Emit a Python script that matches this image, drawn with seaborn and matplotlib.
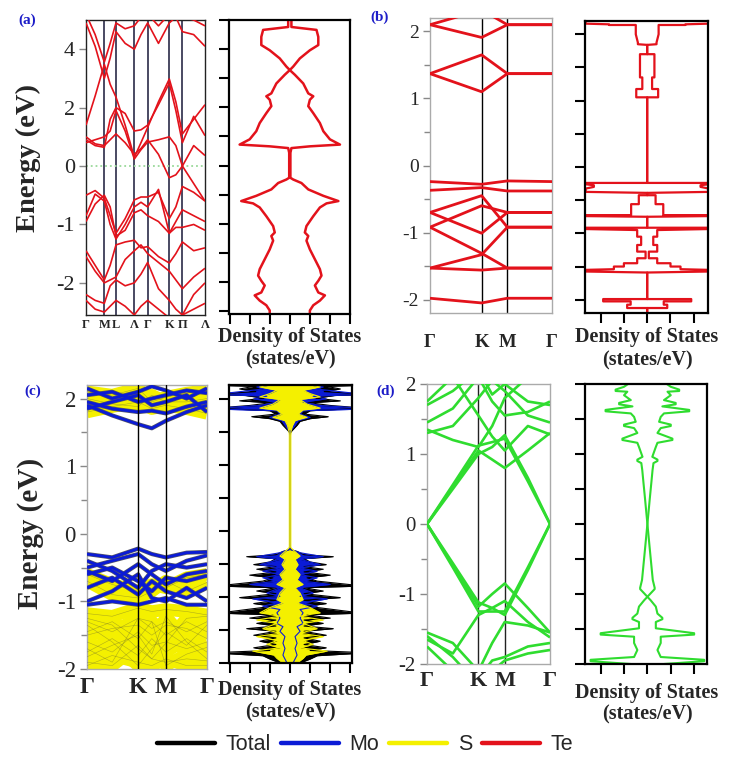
import numpy as np
import pandas as pd
import matplotlib
matplotlib.use("Agg")
import matplotlib.pyplot as plt
import seaborn as sns
from matplotlib.lines import Line2D

sns.set_theme(style="white")
SERIF = ['Liberation Serif', 'DejaVu Serif']
SANS = ['Liberation Sans', 'DejaVu Sans']
plt.rcParams['font.family'] = SERIF

# ---------------- colours ----------------
RED = '#e3121b'
BLUE = '#0b1bd6'
YELLOW = '#f4f000'
GREEN = '#2fdc2f'
PANEL_BLUE = '#1c1cc8'

# ---------------- panel (a) : band structure (axis units as printed) ----------------
A_KPTS = [0, .077, .154, .203, .252, .329, .406, .462, .518, .609, .700, .755, .810, .905, 1.0]
A_NODES = [0, .154, .252, .406, .518, .700, .810, 1.0]
A_NODE_LABELS = ['Γ', 'M', 'L', 'Λ', 'Γ', 'K', 'Π', 'Λ']
A_YTICKS = [-2, -1, 0, 1, 2]
A_YTICKLABELS = ['-2', '-1', '0', '2', '4']
A_BANDS = [
    [2.45, 2.05, 1.50, 1.85, 2.30, 2.10, 2.00, 2.25, 2.45, 2.10, 2.45, 2.55, 2.30, 2.25, 2.05],
    [2.60, 2.25, 1.78, 2.10, 2.45, 2.35, 2.40, 2.55, 2.60, 2.40, 2.60, 2.60, 2.55, 2.50, 2.40],
    [0.70, 1.20, 1.74, 1.40, 1.18, 0.70, 0.15, 0.40, 0.66, 1.10, 1.49, 1.10, 0.55, 0.80, 1.05],
    [0.45, 0.35, 0.32, 0.80, 1.00, 0.90, 0.60, 0.62, 0.70, 1.05, 1.42, 0.95, 0.40, 0.85, 0.52],
    [0.40, 0.45, 0.50, 0.60, 0.95, 0.60, 0.12, 0.28, 0.41, 0.45, 0.50, 0.35, 0.00, -0.30, -0.60],
    [0.50, 0.38, 0.35, 0.45, 0.55, 0.40, 0.20, 0.30, 0.45, 0.20, -0.20, -0.15, 0.00, 0.35, 0.18],
    [-0.50, -0.42, -0.55, -0.85, -1.15, -0.90, -0.58, -0.53, -0.53, -0.45, -0.90, -0.70, -0.35, -0.45, -0.60],
    [-0.85, -0.48, -0.60, -1.00, -1.25, -1.00, -0.70, -0.62, -0.70, -0.40, -1.15, -0.95, -0.75, -0.85, -0.95],
    [-0.95, -0.65, -0.50, -0.70, -1.20, -1.10, -0.80, -0.75, -0.85, -0.95, -1.15, -1.05, -1.05, -1.00, -1.10],
    [-1.45, -1.70, -1.95, -1.70, -1.35, -1.30, -1.27, -1.40, -1.38, -1.55, -1.66, -1.50, -1.30, -1.45, -1.40],
    [-1.55, -1.80, -2.00, -1.95, -1.90, -1.60, -1.45, -1.35, -1.50, -1.65, -1.80, -1.95, -2.10, -1.90, -1.75],
    [-2.20, -2.30, -2.35, -2.05, -1.95, -2.05, -2.00, -1.85, -1.65, -2.10, -2.30, -2.45, -2.55, -2.20, -2.00],
    [-2.30, -2.45, -2.50, -2.40, -2.30, -2.40, -2.55, -2.40, -2.30, -2.45, -2.60, -2.60, -2.55, -2.45, -2.35],
]
# panel (a) DOS : (energy, half-width)
A_DOS = [(2.50, 0.08), (2.38, 0.08), (2.33, 1.33), (2.21, 1.42), (2.07, 1.42), (1.98, 1.0), (1.84, 0.5),
         (1.70, 0.17), (1.64, 0.0), (1.56, 0.25), (1.41, 0.67), (1.24, 0.92), (1.19, 1.17), (1.13, 1.0),
         (1.02, 0.92), (0.90, 1.17), (0.73, 1.5), (0.59, 1.67), (0.45, 2.0), (0.36, 2.5), (0.33, 1.0),
         (0.30, 0.08), (0.22, 0.03), (-0.21, 0.03), (-0.24, 0.17), (-0.30, 0.58), (-0.41, 0.92),
         (-0.52, 1.67), (-0.61, 2.42), (-0.65, 1.83), (-0.72, 1.5), (-0.87, 1.17), (-1.04, 0.83),
         (-1.15, 0.75), (-1.21, 0.92), (-1.29, 0.83), (-1.44, 1.0), (-1.61, 1.25), (-1.78, 1.5),
         (-1.89, 1.58), (-1.98, 1.42), (-2.06, 1.25), (-2.18, 1.42), (-2.23, 1.75), (-2.32, 1.5),
         (-2.40, 1.17), (-2.49, 1.0), (-2.56, 1.0)]

# ---------------- panel (b) ----------------
B_KPTS = [0, 0.423, 0.634, 1.0]
B_NODE_LABELS = ['Γ', 'K', 'M', 'Γ']
B_BANDS = [
    [2.10, 1.91, 2.10, 2.10],
    [2.10, 2.32, 2.10, 2.10],
    [1.37, 1.65, 1.37, 1.37],
    [1.37, 1.10, 1.37, 1.37],
    [-0.24, -0.28, -0.23, -0.24],
    [-0.37, -0.33, -0.38, -0.38],
    [-0.70, -0.45, -0.92, -0.92],
    [-0.92, -0.60, -0.70, -0.70],
    [-0.70, -1.01, -0.70, -0.70],
    [-0.92, -1.31, -1.53, -1.53],
    [-1.53, -1.33, -0.92, -0.92],
    [-1.53, -1.56, -1.53, -1.53],
    [-1.98, -2.05, -1.98, -1.98],
]
B_DOS = [(2.19, 2.64), (2.16, 2.64), (2.15, 1.64), (2.14, 1.64), (2.14, 0.49), (2.00, 0.49), (1.875, 0.40),
         (1.85, 0.40), (1.84, 0.0), (1.70, 0.0), (1.70, 0.31), (1.35, 0.31), (1.35, 0.21), (1.175, 0.21),
         (1.175, 0.47), (1.05, 0.47), (1.05, 0.0), (-0.24, 0.0), (-0.24, 2.64), (-0.26, 2.64),
         (-0.275, 2.29), (-0.30, 2.29), (-0.325, 2.64), (-0.375, 2.64), (-0.39, 0.0), (-0.425, 0.0),
         (-0.425, 0.36), (-0.56, 0.36), (-0.56, 0.69), (-0.725, 0.69), (-0.725, 2.64), (-0.74, 2.64),
         (-0.75, 0.0), (-0.915, 0.0), (-0.915, 2.64), (-0.935, 2.64), (-0.95, 0.43), (-1.05, 0.43),
         (-1.05, 0.26), (-1.175, 0.26), (-1.175, 0.43), (-1.275, 0.43), (-1.275, 0.07), (-1.375, 0.07),
         (-1.375, 0.43), (-1.45, 0.43), (-1.45, 1.0), (-1.50, 1.0), (-1.50, 1.43), (-1.54, 1.43),
         (-1.55, 2.64), (-1.575, 2.64), (-1.59, 0.0), (-1.99, 0.0), (-1.99, 1.89), (-2.025, 1.89),
         (-2.025, 0.71), (-2.075, 0.71), (-2.075, 0.86), (-2.125, 0.86), (-2.125, 0.0), (-2.20, 0.0)]

# ---------------- panel (c) ----------------
C_KPTS = [0, .21, .426, .54, .657, .83, 1.0]
C_BANDS_MO = [
    [1.90, 1.75, 1.62, 1.56, 1.67, 1.80, 1.90],
    [1.95, 1.85, 1.80, 1.82, 1.78, 1.88, 1.95],
    [2.05, 2.10, 1.95, 2.00, 2.05, 2.12, 2.08],
    [2.15, 2.00, 2.10, 2.18, 2.12, 2.00, 2.15],
    [1.85, 1.95, 2.05, 1.90, 1.95, 2.05, 1.80],
    [-0.30, -0.35, -0.22, -0.30, -0.35, -0.28, -0.27],
    [-0.50, -0.40, -0.30, -0.45, -0.55, -0.40, -0.32],
    [-0.55, -0.70, -0.45, -0.60, -0.75, -0.60, -0.55],
    [-0.60, -0.50, -0.70, -0.85, -0.65, -0.70, -0.62],
    [-0.80, -0.65, -0.90, -0.70, -0.85, -0.95, -0.80],
    [-1.00, -0.85, -0.60, -0.95, -1.00, -0.80, -1.00],
    [-1.05, -1.00, -1.05, -1.00, -0.95, -1.05, -1.05],
    [-0.40, -0.55, -0.80, -0.55, -0.45, -0.50, -0.45],
]
C_BANDS_S = [
    [2.00, 1.92, 1.88, 2.05, 1.95, 1.95, 2.00],
    [2.10, 2.05, 2.15, 1.95, 2.02, 2.08, 2.12],
    [1.80, 1.88, 1.95, 1.85, 1.90, 1.85, 1.78],
    [-0.60, -0.75, -0.85, -0.75, -0.80, -0.65, -0.60],
    [-0.70, -0.90, -0.95, -0.85, -0.70, -0.85, -0.72],
    [-1.18, -1.22, -1.10, -1.15, -1.12, -1.15, -1.20],
    [-1.30, -1.45, -1.25, -1.40, -1.30, -1.45, -1.30],
    [-1.45, -1.30, -1.55, -1.30, -1.50, -1.30, -1.45],
    [-1.60, -1.75, -1.45, -1.65, -1.60, -1.70, -1.60],
    [-1.75, -1.55, -1.80, -1.55, -1.75, -1.55, -1.75],
    [-1.90, -1.95, -1.65, -1.85, -1.90, -1.85, -1.88],
    [-1.35, -1.60, -1.95, -1.70, -1.45, -1.65, -1.35],
    [-1.95, -1.80, -1.90, -1.95, -1.85, -1.95, -1.95],
    [-1.50, -1.40, -1.35, -1.50, -1.35, -1.40, -1.55],
    [-1.25, -1.35, -1.70, -1.85, -1.62, -1.25, -1.22],
    [-1.70, -1.90, -1.25, -1.30, -1.95, -1.78, -1.68],
    [-1.82, -1.65, -1.50, -1.78, -1.22, -1.60, -1.85],
]
C_DOS_TOTAL = [(2.23, 3.05), (2.20, 3.05), (2.19, 1.8), (2.15, 2.5), (2.11, 1.7), (2.085, 3.05), (2.06, 3.05),
               (2.05, 2.2), (2.01, 1.3), (1.97, 2.5), (1.94, 1.0), (1.90, 2.0), (1.875, 3.05), (1.85, 3.05),
               (1.82, 1.0), (1.77, 0.7), (1.73, 1.9), (1.70, 1.0), (1.66, 0.5), (1.60, 0.35), (1.52, 0.1),
               (1.48, 0.0), (-0.28, 0.0), (-0.31, 0.35), (-0.36, 0.7), (-0.39, 2.15), (-0.42, 0.7),
               (-0.47, 1.0), (-0.51, 1.8), (-0.54, 0.7), (-0.58, 1.65), (-0.62, 0.7), (-0.67, 2.0),
               (-0.71, 0.85), (-0.76, 1.35), (-0.815, 3.05), (-0.84, 3.05), (-0.86, 0.7), (-0.91, 1.65),
               (-0.95, 0.7), (-1.01, 2.5), (-1.05, 0.7), (-1.10, 1.8), (-1.14, 0.85), (-1.19, 2.15),
               (-1.225, 3.05), (-1.25, 3.05), (-1.27, 0.85), (-1.32, 2.0), (-1.35, 0.7), (-1.40, 1.65),
               (-1.44, 0.7), (-1.48, 2.15), (-1.52, 0.7), (-1.58, 1.8), (-1.62, 0.7), (-1.67, 1.5),
               (-1.72, 0.7), (-1.77, 1.8), (-1.81, 1.0), (-1.835, 3.05), (-1.86, 3.05), (-1.89, 1.35),
               (-1.94, 1.0), (-2.0, 0.5)]
C_DOS_MO = [(2.21, 1.0), (2.18, 1.65), (2.15, 1.3), (2.09, 3.05), (2.06, 3.05), (2.04, 1.15), (2.00, 1.8),
            (1.95, 0.65), (1.90, 1.5), (1.87, 3.05), (1.84, 3.05), (1.82, 0.65), (1.77, 0.5), (1.72, 1.0),
            (1.67, 0.4), (1.60, 0.25), (1.52, 0.05), (1.48, 0.0), (-0.28, 0.0), (-0.33, 0.5), (-0.39, 1.65),
            (-0.43, 0.5), (-0.51, 1.5), (-0.56, 0.5), (-0.61, 1.35), (-0.66, 0.5), (-0.71, 1.35),
            (-0.76, 0.65), (-0.81, 2.0), (-0.86, 0.5), (-0.94, 1.15), (-0.99, 0.5), (-1.03, 1.85),
            (-1.09, 0.65), (-1.14, 1.35), (-1.19, 0.5), (-1.24, 0.65), (-1.32, 0.5), (-1.40, 0.65),
            (-1.45, 0.35), (-1.52, 0.5), (-1.60, 0.25), (-1.70, 0.35), (-1.78, 0.25), (-1.88, 0.35),
            (-2.0, 0.15)]
C_DOS_S = [(2.23, 0.65), (2.18, 1.5), (2.13, 0.65), (2.08, 1.0), (2.03, 1.5), (1.99, 0.5), (1.92, 0.85),
           (1.86, 1.5), (1.83, 0.65), (1.77, 0.4), (1.72, 0.85), (1.67, 0.25), (1.60, 0.13), (1.51, 0.05),
           (1.45, 0.035), (-0.25, 0.035), (-0.30, 0.2), (-0.38, 0.5), (-0.43, 0.25), (-0.51, 0.4),
           (-0.58, 0.25), (-0.66, 0.5), (-0.74, 0.35), (-0.81, 0.65), (-0.86, 0.25), (-0.94, 0.5),
           (-1.04, 0.65), (-1.09, 0.35), (-1.16, 1.0), (-1.24, 1.5), (-1.29, 0.5), (-1.35, 1.65),
           (-1.40, 0.65), (-1.48, 1.35), (-1.55, 0.5), (-1.60, 1.65), (-1.66, 0.65), (-1.72, 1.15),
           (-1.77, 0.5), (-1.82, 1.85), (-1.88, 0.8), (-1.93, 0.65), (-2.0, 0.35)]

# ---------------- panel (d) ----------------
D_KPTS = [0, .21, .418, .53, .632, .82, 1.0]
D_BANDS = [
    [0.0, 0.53, 1.05, 0.92, 0.80, 1.05, 1.30],
    [0.0, 0.56, 1.12, 1.17, 1.22, 0.61, 0.0],
    [0.0, 0.50, 1.00, 1.10, 1.27, 0.66, 0.0],
    [1.30, 1.40, 1.80, 2.05, 1.90, 1.55, 1.45],
    [1.45, 1.65, 2.10, 1.75, 1.55, 1.60, 1.75],
    [1.70, 1.90, 2.20, 1.85, 2.00, 1.75, 1.70],
    [1.35, 1.20, 1.10, 1.40, 1.80, 2.10, 2.30],
    [1.75, 2.10, 1.55, 1.25, 1.05, 1.40, 1.28],
    [0.0, -0.59, -1.18, -1.00, -0.85, -1.20, -1.55],
    [0.0, -0.62, -1.25, -1.25, -1.25, -0.62, 0.0],
    [0.0, -0.56, -1.12, -1.20, -1.30, -0.66, 0.0],
    [-1.55, -1.70, -2.10, -1.70, -1.40, -1.45, -1.55],
    [-1.65, -1.85, -1.30, -1.20, -1.10, -1.40, -1.62],
    [-1.75, -2.10, -2.20, -1.95, -1.90, -1.75, -1.70],
    [-1.60, -1.90, -2.30, -2.10, -1.95, -1.85, -1.80],
]
D_DOS = [(2.00, 0.83), (1.96, 1.0), (1.92, 1.36), (1.90, 1.36), (1.89, 0.86), (1.84, 1.0), (1.77, 0.71),
         (1.73, 1.21), (1.71, 1.21), (1.68, 0.64), (1.63, 1.79), (1.61, 1.79), (1.58, 0.71), (1.53, 0.57),
         (1.46, 0.5), (1.42, 1.0), (1.40, 1.0), (1.37, 0.57), (1.30, 0.43), (1.22, 1.07), (1.20, 1.07),
         (1.16, 0.43), (1.10, 0.36), (0.96, 0.21), (0.92, 0.43), (0.90, 0.43), (0.87, 0.26), (0.77, 0.22),
         (0.63, 0.18), (0.39, 0.11), (0.0, 0.0), (-0.42, 0.12), (-0.80, 0.23), (-0.91, 0.31), (-0.93, 0.31),
         (-0.99, 0.14), (-1.04, 0.0), (-1.09, 0.14), (-1.18, 0.36), (-1.28, 0.43), (-1.34, 0.64),
         (-1.36, 0.64), (-1.40, 0.36), (-1.49, 0.36), (-1.56, 2.0), (-1.58, 2.0), (-1.61, 0.57),
         (-1.70, 0.57), (-1.80, 0.43), (-1.90, 0.57), (-1.94, 2.43), (-1.96, 2.43), (-2.0, 0.71)]

LEGEND_LABELS = ['Total', 'Mo', 'S', 'Te']
LEGEND_COLORS = ['black', BLUE, YELLOW, RED]

# ---------------- figure ----------------
W, H = 730, 758
fig = plt.figure(figsize=(W / 100, H / 100), dpi=100, facecolor='white')


def add_ax(x0, y0, x1, y1):
    return fig.add_axes([x0 / W, 1 - y1 / H, (x1 - x0) / W, (y1 - y0) / H])


def bands_df(k, bands):
    rows = []
    for i, b in enumerate(bands):
        for kk, e in zip(k, b):
            rows.append((i, kk, e))
    return pd.DataFrame(rows, columns=['band', 'k', 'E'])


def draw_bands(ax, k, bands, color, lw, zorder=3, alpha=1.0):
    sns.lineplot(data=bands_df(k, bands), x='k', y='E', units='band', estimator=None, sort=False,
                 color=color, lw=lw, ax=ax, legend=False, zorder=zorder, alpha=alpha,
                 solid_capstyle='butt')


def dos_arrays(pairs):
    arr = np.array(pairs, dtype=float)
    return arr[:, 0], arr[:, 1]


def draw_dos(ax, pairs, color, lw):
    E, D = dos_arrays(pairs)
    df = pd.DataFrame({'E': np.concatenate([E, E]), 'D': np.concatenate([D, -D]),
                       'side': ['r'] * len(E) + ['l'] * len(E)})
    sns.lineplot(data=df, x='D', y='E', units='side', estimator=None, sort=False, color=color,
                 lw=lw, ax=ax, legend=False)


def style_band(ax, ylim, yticks, ylabels, minor, yfs, xt, xl, xfs, xpad, spine):
    ax.set_xlim(0, 1)
    ax.set_ylim(*ylim)
    ax.set_yticks(yticks)
    ax.set_yticklabels(ylabels, fontsize=yfs, family=SERIF)
    if minor is not None:
        ax.set_yticks(minor, minor=True)
    ax.tick_params(axis='y', which='both', direction='out', length=5, width=1, color='#888888',
                   left=True, pad=3)
    ax.tick_params(axis='y', which='minor', length=4)
    ax.set_xticks(xt)
    ax.set_xticklabels(xl, fontsize=xfs, fontweight='bold', family=SERIF)
    ax.tick_params(axis='x', length=0, pad=xpad)
    for s in ax.spines.values():
        s.set_color(spine)
        s.set_linewidth(1)
    ax.set_xlabel('')
    ax.set_ylabel('')


def style_dos(ax, ylim, xlim, yt, xt):
    ax.set_xlim(*xlim)
    ax.set_ylim(*ylim)
    ax.set_yticks(yt)
    ax.set_xticks(xt)
    ax.set_yticklabels([])
    ax.set_xticklabels([])
    ax.tick_params(direction='out', length=7, width=1.5, color='black', left=True, bottom=True)
    for s in ax.spines.values():
        s.set_color('black')
        s.set_linewidth(1.6)
    ax.set_xlabel('')
    ax.set_ylabel('')


def dos_label(x, y1, y2):
    fig.text(x / W, 1 - y1 / H, 'Density of States', ha='center', va='center', fontsize=14.5,
             fontweight='bold', family=SERIF)
    fig.text(x / W, 1 - y2 / H, '(states/eV)', ha='center', va='center', fontsize=14.5,
             fontweight='bold', family=SERIF)


# ---- (a) bands
axa = add_ax(86, 20, 205, 315)
for xv in A_NODES[1:-1]:
    axa.axvline(xv, color='#2a2a48', lw=1.2, zorder=1)
axa.axhline(0, color='#9ad99a', ls=':', lw=1.3, zorder=2)
draw_bands(axa, A_KPTS, A_BANDS, RED, 1.2)
style_band(axa, (-2.55, 2.5), A_YTICKS, A_YTICKLABELS, None, 16, A_NODES, A_NODE_LABELS, 9, 3,
           '#222222')

# ---- (a) DOS
axad = add_ax(229, 20, 350, 314)
draw_dos(axad, A_DOS, RED, 1.8)
style_dos(axad, (-2.55, 2.5), (-3.03, 3.0), np.arange(-2.5, 2.51, 0.5), np.arange(-3, 3.1, 1))
dos_label(290, 337, 359)

# ---- (b) bands
axb = add_ax(430, 18, 552, 313)
for xv in B_KPTS[1:-1]:
    axb.axvline(xv, color='black', lw=1, zorder=1)
draw_bands(axb, B_KPTS, B_BANDS, RED, 2.0)
style_band(axb, (-2.2, 2.2), [-2, -1, 0, 1, 2], ['-2', '-1', '0', '1', '2'], [-1.5, -0.5, 0.5, 1.5],
           14, B_KPTS, B_NODE_LABELS, 13.5, 15, '#aaaaaa')

# ---- (b) DOS
axbd = add_ax(585, 21, 708, 313)
draw_dos(axbd, B_DOS, RED, 1.6)
style_dos(axbd, (-2.2, 2.2), (-2.67, 2.61), np.arange(-2, 2.01, 0.5), np.arange(-2, 2.1, 1))
dos_label(647, 337, 360)

# ---- (c) bands
axc = add_ax(87, 385, 207, 669)
for xv in [C_KPTS[2], C_KPTS[4]]:
    axc.axvline(xv, color='black', lw=1, zorder=5)
draw_bands(axc, C_KPTS, C_BANDS_S, YELLOW, 9.0, zorder=2)
draw_bands(axc, C_KPTS, C_BANDS_S, '#6b6b30', 0.4, zorder=3, alpha=0.5)
draw_bands(axc, C_KPTS, C_BANDS_MO, '#555566', 3.0, zorder=3)
draw_bands(axc, C_KPTS, C_BANDS_MO, BLUE, 2.0, zorder=4)
style_band(axc, (-2.0, 2.2), [-2, -1, 0, 1, 2], ['-2', '-1', '0', '1', '2'], [-1.5, -0.5, 0.5, 1.5],
           16.5, [0, C_KPTS[2], C_KPTS[4], 1], ['Γ', 'K', 'M', 'Γ'], 17, 6, '#aaaaaa')

# ---- (c) DOS
axcd = add_ax(229, 385, 352, 663)
for pairs, col in [(C_DOS_TOTAL, 'black'), (C_DOS_MO, BLUE), (C_DOS_S, YELLOW)]:
    E, D = dos_arrays(pairs)
    axcd.fill_betweenx(E, -D, D, color=col, lw=0)
    draw_dos(axcd, pairs, col, 0.8)
style_dos(axcd, (-2.0, 2.21), (-3.03, 3.08), np.arange(-2, 2.01, 0.5), np.arange(-3, 3.1, 1))
dos_label(290, 690, 712)

# ---- (d) bands
axd = add_ax(427, 384, 550, 664)
for xv in [D_KPTS[2], D_KPTS[4]]:
    axd.axvline(xv, color='#222222', lw=1, zorder=1)
draw_bands(axd, D_KPTS, D_BANDS, GREEN, 1.9)
style_band(axd, (-2.0, 2.0), [-2, -1, 0, 1, 2], ['-2', '-1', '0', '1', '2'], [-1.5, -0.5, 0.5, 1.5],
           15, [0, D_KPTS[2], D_KPTS[4], 1], ['Γ', 'K', 'M', 'Γ'], 16, 5, '#aaaaaa')

# ---- (d) DOS
axdd = add_ax(585, 384, 707, 664)
draw_dos(axdd, D_DOS, GREEN, 1.5)
style_dos(axdd, (-2.0, 2.0), (-2.67, 2.55), np.arange(-2, 2.01, 0.5), np.arange(-2, 2.1, 1))
dos_label(647, 693, 714)

# ---- axis titles & panel letters
fig.text(28 / W, 1 - 158 / H, 'Energy (eV)', rotation=90, ha='center', va='center', fontsize=20.5,
         fontweight='bold', family=SERIF)
fig.text(31 / W, 1 - 533 / H, 'Energy (eV)', rotation=90, ha='center', va='center', fontsize=21,
         fontweight='bold', family=SERIF)
for lab, (px, py) in zip(['(a)', '(b)', '(c)', '(d)'], [(27, 20), (380, 17), (33, 391), (386, 391)]):
    fig.text(px / W, 1 - py / H, lab, ha='center', va='center', fontsize=11, fontweight='bold',
             color=PANEL_BLUE, family=SERIF)

# ---- legend
handles = [Line2D([], [], color=c, lw=3.2) for c in LEGEND_COLORS]
fig.legend(handles, LEGEND_LABELS, loc='center', bbox_to_anchor=(365 / W, 1 - 745 / H), ncol=4,
           frameon=False, prop={'family': SANS, 'size': 15.5}, handlelength=2.7, handletextpad=0.5,
           columnspacing=0.45)

fig.savefig('out.png', dpi=100, facecolor='white')
